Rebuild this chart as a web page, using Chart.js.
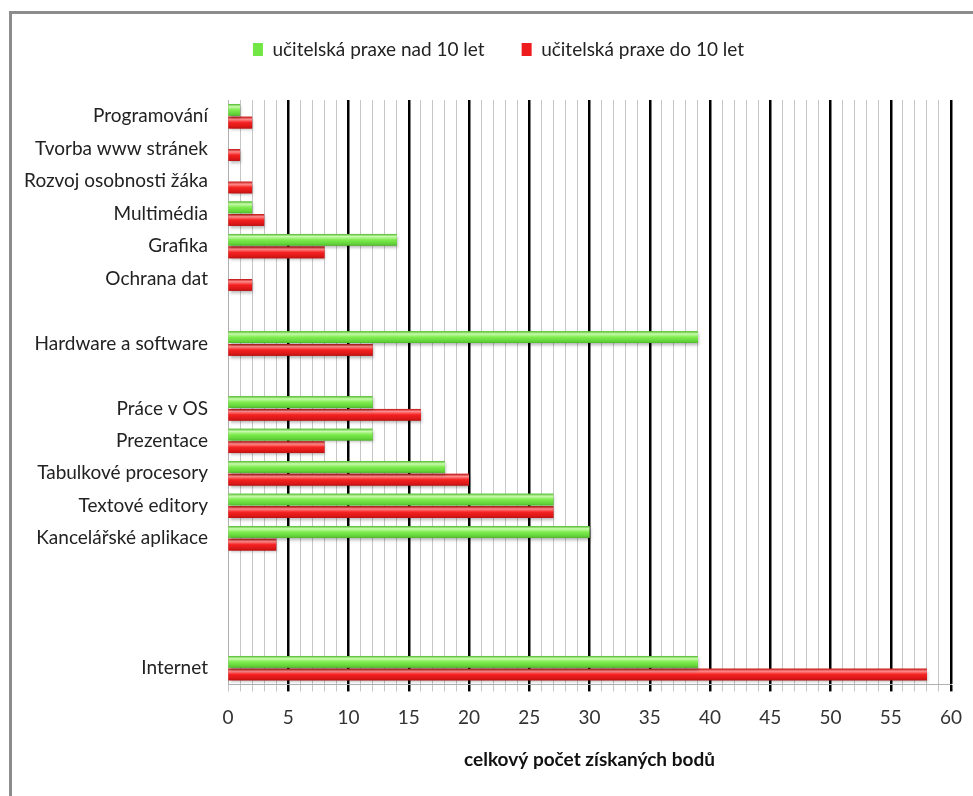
<!DOCTYPE html>
<html>
<head>
<meta charset="utf-8">
<script src="https://cdn.jsdelivr.net/npm/chart.js@4"></script>
<style>
  html, body { margin: 0; padding: 0; background: #fff; overflow: hidden; }
  #wrap { position: relative; width: 973px; height: 796px; }
  #frame {
    position: absolute; left: 9px; top: 11px; width: 2000px; height: 2000px;
    border-top: 3px solid #8c8c8c; border-left: 3px solid #8c8c8c;
  }
  canvas { position: absolute; left: 0; top: 0; }
</style>
</head>
<body>
<div id="wrap">
  <div id="frame"></div>
  <canvas id="chart"></canvas>
</div>
<script>
// empty strings are the blank rows of the original chart
const categories = [
  'Programování', 'Tvorba www stránek', 'Rozvoj osobnosti žáka', 'Multimédia',
  'Grafika', 'Ochrana dat', '', 'Hardware a software', '',
  'Práce v OS', 'Prezentace', 'Tabulkové procesory', 'Textové editory',
  'Kancelářské aplikace', '', '', '', 'Internet'
];
const nad10 = [1, 0, 0, 2, 14, 0, null, 39, null, 12, 12, 18, 27, 30, null, null, null, 39];
const do10 = [2, 1, 2, 3, 8, 2, null, 12, null, 16, 8, 20, 27, 4, null, null, null, 58];
const seriesNames = ['učitelská praxe nad 10 let', 'učitelská praxe do 10 let'];
const xTicksMax = 60;
const xTitle = 'celkový počet získaných bodů';

// edge / highlight / mid / lower tones for the tube look
const bevel = [
  ['#52b82c', '#c8fbad', '#80ec50', '#62d438'],
  ['#bb1010', '#ff8c8c', '#f52222', '#d91616']
];

// extra room under the legend, and a small shift to the right
const legendGap = {
  id: 'legendGap',
  beforeInit(chart) {
    const lg = chart.legend;
    const fit = lg.fit;
    const draw = lg.draw;
    lg.fit = function () {
      fit.call(this);
      this.height += 31;
    };
    lg.draw = function () {
      chart.ctx.save();
      chart.ctx.translate(12, 0);
      draw.call(this);
      chart.ctx.restore();
    };
  }
};

const tubeBars = {
  id: 'tubeBars',
  afterDatasetDraw(chart, args) {
    const ctx = chart.ctx;
    const c = bevel[args.index];
    args.meta.data.forEach(bar => {
      const p = bar.getProps(['x', 'y', 'base', 'height'], true);
      const w = p.x - p.base;
      if (!(w > 0.5) || isNaN(p.y)) return;
      const top = p.y - p.height / 2;
      const g = ctx.createLinearGradient(0, top, 0, top + p.height);
      g.addColorStop(0, c[0]);
      g.addColorStop(0.22, c[1]);
      g.addColorStop(0.5, c[2]);
      g.addColorStop(0.85, c[3]);
      g.addColorStop(1, c[0]);
      ctx.save();
      ctx.shadowColor = 'rgba(0,0,0,0.3)';
      ctx.shadowBlur = 3;
      ctx.shadowOffsetX = 1;
      ctx.shadowOffsetY = 2;
      ctx.fillStyle = g;
      ctx.fillRect(p.base, top, w, p.height);
      ctx.restore();
    });
  }
};

new Chart(document.getElementById('chart'), {
  type: 'bar',
  data: {
    labels: categories,
    datasets: [
      { label: seriesNames[0], data: nad10, backgroundColor: '#72e644', borderColor: '#3f9e22', borderWidth: 0 },
      { label: seriesNames[1], data: do10, backgroundColor: '#ee1c1c', borderColor: '#a80c0c', borderWidth: 0 }
    ]
  },
  plugins: [legendGap, tubeBars],
  options: {
    indexAxis: 'y',
    responsive: true,
    maintainAspectRatio: false,
    animation: false,
    categoryPercentage: 0.78,
    barPercentage: 0.92,
    layout: { padding: { top: 3, left: 22, right: 22, bottom: 25 } },
    plugins: {
      legend: {
        position: 'top',
        labels: {
          boxWidth: 10,
          boxHeight: 13,
          padding: 37,
          color: '#222',
          font: { family: 'Lato', size: 19 }
        }
      },
      tooltip: { enabled: false }
    },
    scales: {
      x: {
        min: 0,
        max: xTicksMax,
        afterFit(scale) { scale.paddingRight = 0; },
        ticks: {
          stepSize: 1,
          autoSkip: false,
          maxRotation: 0,
          padding: 15,
          color: '#333',
          font: { family: 'Lato', size: 19 },
          callback: v => (v % 5 === 0 ? v : '')
        },
        grid: {
          tickLength: 7,
          color: c => (c.tick && c.tick.value % 5 === 0 && c.tick.value !== 0 ? '#000' : '#c6c6c6'),
          lineWidth: c => (c.tick && c.tick.value % 5 === 0 && c.tick.value !== 0 ? 2.5 : 1)
        },
        border: { color: '#b0b0b0', width: 1 },
        title: {
          display: true,
          text: xTitle,
          color: '#111',
          padding: { top: 4, bottom: 0 },
          font: { family: 'Lato', size: 19, weight: 'bold' }
        }
      },
      y: {
        afterFit(scale) { scale.width = 206; },
        ticks: {
          padding: 20,
          color: '#222',
          autoSkip: false,
          font: { family: 'Lato', size: 19 }
        },
        grid: { display: false, drawTicks: false },
        border: { color: '#b0b0b0', width: 1 }
      }
    }
  }
});
</script>
</body>
</html>
